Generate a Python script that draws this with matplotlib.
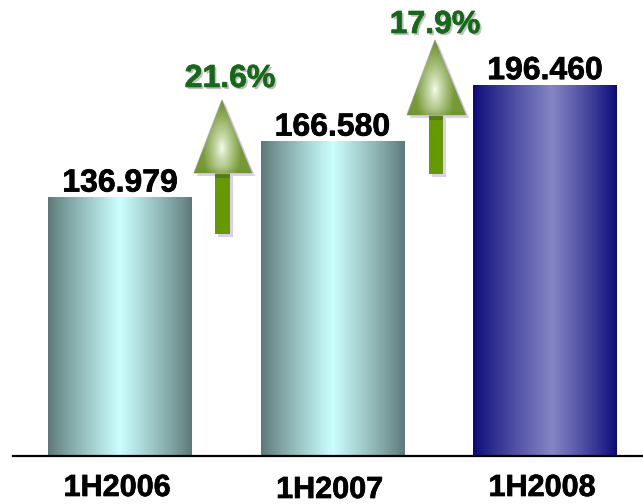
import numpy as np
import matplotlib
matplotlib.use("Agg")
import matplotlib.pyplot as plt
from matplotlib.colors import to_rgb
from matplotlib.patches import Polygon, Rectangle
import matplotlib.patheffects as pe

plt.rcParams["font.family"] = ["Liberation Sans", "DejaVu Sans"]

# Half-year figures
periods = ["1H2006", "1H2007", "1H2008"]
revenue = [136.979, 166.580, 196.460]
value_labels = ["136.979", "166.580", "196.460"]

# Period-over-period growth in percent
growth = [(b / a - 1.0) * 100.0 for a, b in zip(revenue[:-1], revenue[1:])]

W, H = 643, 504
fig = plt.figure(figsize=(W / 100, H / 100), dpi=100)
fig.patch.set_facecolor("white")

# Main axes: baseline 48 px above the bottom, bars spaced 212.5 px apart
ax = fig.add_axes([13 / W, 48 / H, 630 / W, 456 / H])
x = np.arange(len(periods))
spacing_px = 212.5
XLIM = (-(120 - 13) / spacing_px, 2 + (643 - 545) / spacing_px)
YLIM = (0, 456 / 1.89)
for side in ("top", "right", "left"):
    ax.spines[side].set_visible(False)
ax.spines["bottom"].set_linewidth(1.6)
ax.spines["bottom"].set_color("black")
ax.set_xticks([])
ax.set_yticks([])
ax.patch.set_alpha(0)

bar_styles = [
    ("#5d7878", "#ccffff", 0.50),
    ("#5d7878", "#ccffff", 0.50),
    ("#0a0a78", "#8585c6", 0.55),
]

bars = ax.bar(x, revenue, width=0.673, color="none", edgecolor="none", zorder=2)


def gradient_row(edge, center, peak, n=256):
    t = np.linspace(0, 1, n)
    w = np.where(t < peak, t / peak, (1 - t) / (1 - peak))
    w = np.clip(w, 0, 1) ** 0.9
    e = np.array(to_rgb(edge))
    c = np.array(to_rgb(center))
    return (e[None, :] + (c - e)[None, :] * w[:, None])[None, :, :]


for patch, (edge, center, peak) in zip(bars, bar_styles):
    x0, y0 = patch.get_x(), patch.get_y()
    img = gradient_row(edge, center, peak)
    im = ax.imshow(img, extent=(x0, x0 + patch.get_width(), y0, y0 + patch.get_height()),
                   aspect="auto", interpolation="bilinear", zorder=2)
    im.set_clip_path(patch)

ax.set_xlim(*XLIM)
ax.set_ylim(*YLIM)

heavy = [pe.withStroke(linewidth=0.5, foreground="black")]

# Value labels above bars
for xi, v, lab in zip(x, revenue, value_labels):
    ax.annotate(lab, (xi, v), xytext=(0, 4), textcoords="offset points",
                ha="center", va="baseline", fontsize=23, fontweight="bold",
                color="black", zorder=5, path_effects=heavy)

# Period labels below the baseline
label_drop_px = [40, 42, 40]
for xi, lab, d in zip(x, periods, label_drop_px):
    ax.annotate(lab, (xi, 0), xytext=(-3 * 0.72, -d * 0.72), textcoords="offset points",
                ha="center", va="baseline", fontsize=22, fontweight="bold",
                color="black", annotation_clip=False, path_effects=heavy)

# Overlay in pixel units for the growth arrows
ov = fig.add_axes([0, 0, 1, 1], zorder=3)
ov.axis("off")
ov.patch.set_alpha(0)


def draw_arrow(apex, base_y, base_x0, base_x1, shaft_x0, shaft_x1, shaft_bottom):
    ax_, ay_ = apex
    shadow = "#dccdf3"
    sh = 3
    ov.add_patch(Polygon([(ax_ + sh, ay_ + sh), (base_x0 + sh, base_y + sh), (base_x1 + sh, base_y + sh)],
                         closed=True, facecolor=shadow, edgecolor="none", zorder=1))
    ov.add_patch(Rectangle((shaft_x0 + sh, base_y + sh), shaft_x1 - shaft_x0, shaft_bottom - base_y,
                           facecolor=shadow, edgecolor="none", zorder=1))
    # shaft
    ov.add_patch(Rectangle((shaft_x0, base_y), shaft_x1 - shaft_x0, shaft_bottom - base_y,
                           facecolor="#669900", edgecolor="none", zorder=2))
    ov.add_patch(Rectangle((shaft_x0, base_y), shaft_x1 - shaft_x0, 5,
                           facecolor="#5a7a22", edgecolor="none", zorder=2))
    # head with a soft white glow
    tri = Polygon([(ax_, ay_), (base_x0, base_y), (base_x1, base_y)], closed=True,
                  facecolor="none", edgecolor="#c9b8ea", linewidth=1.0, zorder=3)
    ov.add_patch(tri)
    nx, ny = 120, 120
    gx = np.linspace(base_x0, base_x1, nx)
    gy = np.linspace(ay_, base_y, ny)
    GX, GY = np.meshgrid(gx, gy)
    cx = ax_
    cy = ay_ + 0.66 * (base_y - ay_)
    hw = (base_x1 - base_x0) / 2
    d = np.sqrt(((GX - cx) / (hw * 0.68)) ** 2 + ((GY - cy) / ((base_y - ay_) * 0.58)) ** 2)
    s = np.clip(d, 0, 1) ** 0.8
    white = np.array(to_rgb("#fbfff4"))
    green = np.array(to_rgb("#769a34"))
    img = white[None, None, :] * (1 - s[..., None]) + green[None, None, :] * s[..., None]
    bottom = np.clip((GY - (base_y - 6)) / 6, 0, 1)[..., None]
    img = img * (1 - 0.25 * bottom) + np.array(to_rgb("#5f8220"))[None, None, :] * 0.25 * bottom
    im = ov.imshow(img, extent=(base_x0, base_x1, base_y, ay_), origin="upper",
                   interpolation="bilinear", zorder=4, aspect="auto")
    im.set_clip_path(tri)


draw_arrow((222, 100), 173, 194, 252, 215, 230, 234)
draw_arrow((435, 40), 115, 407, 466, 429, 443, 174)

ov.set_xlim(0, W)
ov.set_ylim(H, 0)

# Growth labels
growth_pos = [(230, 87), (435, 33)]
for g, (gx_, gy_) in zip(growth, growth_pos):
    ov.text(gx_, gy_, f"{g:.1f}%", ha="center", va="baseline", fontsize=23,
            fontweight="bold", color="#17691a", zorder=6,
            path_effects=[pe.SimplePatchShadow(offset=(1.5, -1.5), shadow_rgbFace="#808080", alpha=0.5),
                          pe.withStroke(linewidth=0.5, foreground="#17691a")])

fig.savefig("out.png", dpi=100, facecolor="white")
